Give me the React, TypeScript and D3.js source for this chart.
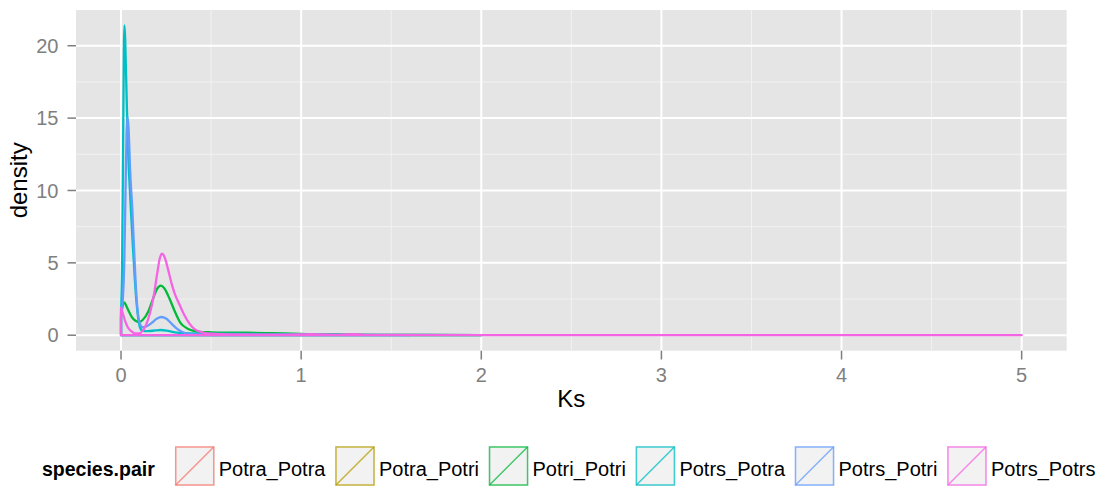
import React, { useEffect, useRef } from "react";
import * as d3 from "d3";

// Kernel density estimates of Ks for each species pair: [Ks, density]
const potraPotra: [number, number][] = [];
const potraPotri: [number, number][] = [];
const potriPotri: [number, number][] = [
  [0, 1.2], [0.008, 2.0], [0.018, 2.27], [0.03, 2.0], [0.045, 1.6], [0.06, 1.25],
  [0.08, 1.0], [0.1, 0.92], [0.12, 1.05], [0.15, 1.6], [0.18, 2.6], [0.2, 3.2],
  [0.221, 3.42], [0.24, 3.25], [0.27, 2.5], [0.3, 1.6], [0.33, 0.85], [0.37, 0.45],
  [0.41, 0.28], [0.45, 0.22], [0.5, 0.2], [0.6, 0.18], [0.7, 0.17], [0.8, 0.15],
  [0.9, 0.13], [1.0, 0.09], [1.1, 0.06], [1.2, 0.05], [1.4, 0.03], [1.7, 0.02], [2.0, 0.01],
];
const potrsPotra: [number, number][] = [
  [0, 1.5], [0.006, 5], [0.012, 14], [0.016, 20], [0.019, 21.4], [0.023, 20.5],
  [0.028, 18], [0.033, 15.5], [0.04, 12.5], [0.048, 10.3], [0.055, 8.6], [0.065, 6.3],
  [0.075, 4.2], [0.085, 2.4], [0.095, 1.2], [0.105, 0.55], [0.12, 0.3], [0.15, 0.28],
  [0.19, 0.33], [0.22, 0.36], [0.26, 0.3], [0.3, 0.2], [0.36, 0.14], [0.45, 0.11],
  [0.6, 0.1], [0.8, 0.08], [1.0, 0.06], [1.2, 0.04], [1.5, 0.02], [2.0, 0.01],
];
const potrsPotri: [number, number][] = [
  [0, 1.4], [0.01, 2.5], [0.018, 5], [0.025, 10], [0.031, 14], [0.037, 15.06],
  [0.043, 14], [0.05, 11.5], [0.063, 8.6], [0.075, 5.2], [0.085, 2.8], [0.092, 1.7],
  [0.1, 1.0], [0.11, 0.65], [0.12, 0.55], [0.14, 0.6], [0.17, 0.85], [0.2, 1.15],
  [0.223, 1.26], [0.25, 1.15], [0.28, 0.8], [0.31, 0.45], [0.34, 0.22], [0.37, 0.1],
  [0.42, 0.06], [0.55, 0.04], [0.8, 0.03], [1.0, 0.02], [1.3, 0.01], [1.6, 0.005],
];
const potrsPotrs: [number, number][] = [
  [0, 1.9], [0.01, 1.5], [0.025, 0.9], [0.04, 0.5], [0.06, 0.25], [0.08, 0.12],
  [0.1, 0.12], [0.12, 0.3], [0.14, 0.75], [0.16, 1.5], [0.18, 2.6], [0.2, 4.2],
  [0.215, 5.3], [0.227, 5.63], [0.24, 5.45], [0.26, 4.6], [0.28, 3.6], [0.3, 2.8],
  [0.325, 2.1], [0.347, 1.5], [0.38, 0.8], [0.41, 0.4], [0.45, 0.2], [0.5, 0.1],
  [0.6, 0.06], [0.8, 0.04], [1.0, 0.05], [1.05, 0.08], [1.1, 0.05], [1.2, 0.03],
  [1.3, 0.07], [1.35, 0.03], [1.5, 0.02], [2.0, 0.01], [3.0, 0.005], [4.0, 0.002], [5.0, 0.001],
];

const pairNames = ["Potra_Potra", "Potra_Potri", "Potri_Potri", "Potrs_Potra", "Potrs_Potri", "Potrs_Potrs"];
const pairColors = ["#F8766D", "#B79F00", "#00BA38", "#00BFC4", "#619CFF", "#F564E3"];
const pairData = [potraPotra, potraPotri, potriPotri, potrsPotra, potrsPotri, potrsPotrs];

const xTicks = [0, 1, 2, 3, 4, 5];
const yTicks = [0, 5, 10, 15, 20];
const xMinor = [0.5, 1.5, 2.5, 3.5, 4.5];
const yMinor = [2.5, 7.5, 12.5, 17.5];

const W = 1102;
const H = 486;
const FONT = "'Liberation Sans', Arial, Helvetica, sans-serif";

export default function App() {
  const ref = useRef<SVGSVGElement | null>(null);

  useEffect(() => {
    const svg = d3.select(ref.current);
    svg.selectAll("*").remove();

    const left = 76, right = 1066.7, top = 10, bottom = 350.7;

    const x = d3.scaleLinear().domain([-0.25, 5.25]).range([left, right]);
    const maxY = d3.max(pairData.flat(), (d) => d[1]) ?? 1;
    const pad = maxY * 0.05;
    const y = d3.scaleLinear().domain([-pad, maxY + pad]).range([bottom, top]);

    // panel
    svg.append("rect")
      .attr("x", left).attr("y", top)
      .attr("width", right - left).attr("height", bottom - top)
      .attr("fill", "#E5E5E5");

    const grid = svg.append("g");
    xMinor.forEach((v) =>
      grid.append("line").attr("x1", x(v)).attr("x2", x(v)).attr("y1", top).attr("y2", bottom)
        .attr("stroke", "#F2F2F2").attr("stroke-width", 1));
    yMinor.forEach((v) =>
      grid.append("line").attr("x1", left).attr("x2", right).attr("y1", y(v)).attr("y2", y(v))
        .attr("stroke", "#F2F2F2").attr("stroke-width", 1));
    xTicks.forEach((v) =>
      grid.append("line").attr("x1", x(v)).attr("x2", x(v)).attr("y1", top).attr("y2", bottom)
        .attr("stroke", "#FFFFFF").attr("stroke-width", 2));
    yTicks.forEach((v) =>
      grid.append("line").attr("x1", left).attr("x2", right).attr("y1", y(v)).attr("y2", y(v))
        .attr("stroke", "#FFFFFF").attr("stroke-width", 2));

    // density outlines, drawn as closed polygons down to zero
    const area = d3.area<[number, number]>()
      .x((d) => x(d[0]))
      .y0(y(0))
      .y1((d) => y(d[1]))
      .curve(d3.curveMonotoneX);

    const plot = svg.append("g");
    pairData.forEach((data, i) => {
      if (!data.length) return;
      plot.append("path")
        .attr("d", area(data) as string)
        .attr("fill", "none")
        .attr("stroke", pairColors[i])
        .attr("stroke-width", 2.3)
        .attr("stroke-linejoin", "round");
    });

    // axes
    const axes = svg.append("g").attr("font-family", FONT);
    yTicks.forEach((v) => {
      axes.append("line").attr("x1", left - 8.5).attr("x2", left).attr("y1", y(v)).attr("y2", y(v))
        .attr("stroke", "#7F7F7F").attr("stroke-width", 1.5);
      axes.append("text").attr("x", left - 17.5).attr("y", y(v)).attr("dy", "0.36em")
        .attr("text-anchor", "end").attr("font-size", 20).attr("fill", "#7F7F7F").text(String(v));
    });
    xTicks.forEach((v) => {
      axes.append("line").attr("x1", x(v)).attr("x2", x(v)).attr("y1", bottom).attr("y2", bottom + 8.8)
        .attr("stroke", "#7F7F7F").attr("stroke-width", 1.5);
      axes.append("text").attr("x", x(v)).attr("y", 368).attr("dy", "0.71em")
        .attr("text-anchor", "middle").attr("font-size", 20).attr("fill", "#7F7F7F").text(String(v));
    });
    axes.append("text").attr("x", (left + right) / 2).attr("y", 407)
      .attr("text-anchor", "middle").attr("font-size", 24).attr("fill", "#000").text("Ks");
    axes.append("text")
      .attr("transform", `translate(26.5, ${(top + bottom) / 2}) rotate(-90)`)
      .attr("text-anchor", "middle").attr("font-size", 24).attr("fill", "#000").text("density");

    // legend
    const leg = svg.append("g").attr("font-family", FONT);
    const baseline = 476;
    const keySize = 40;
    const keyTop = 446;
    const title = leg.append("text").attr("x", 42).attr("y", baseline)
      .attr("font-size", 19.5).attr("font-weight", "bold").attr("fill", "#000").text("species.pair");
    let cx = 42 + (title.node() as SVGTextElement).getComputedTextLength() + 20;
    pairNames.forEach((name, i) => {
      const g = leg.append("g");
      g.append("rect").attr("x", cx).attr("y", keyTop).attr("width", keySize).attr("height", keySize)
        .attr("fill", "#F2F2F2");
      g.append("rect").attr("x", cx + 1).attr("y", keyTop + 1)
        .attr("width", keySize - 2).attr("height", keySize - 2)
        .attr("fill", "none").attr("stroke", pairColors[i]).attr("stroke-width", 1.5).attr("stroke-opacity", 0.75);
      g.append("line").attr("x1", cx + 1).attr("y1", keyTop + keySize - 1)
        .attr("x2", cx + keySize - 1).attr("y2", keyTop + 1)
        .attr("stroke", pairColors[i]).attr("stroke-width", 1.5).attr("stroke-opacity", 0.75);
      const t = g.append("text").attr("x", cx + keySize + 4).attr("y", baseline)
        .attr("font-size", 20).attr("fill", "#000").text(name);
      cx += keySize + 4 + (t.node() as SVGTextElement).getComputedTextLength() + 9.5;
    });
  }, []);

  return (
    <svg ref={ref} width={W} height={H} style={{ display: "block", position: "absolute", left: 0, top: 0 }} />
  );
}
